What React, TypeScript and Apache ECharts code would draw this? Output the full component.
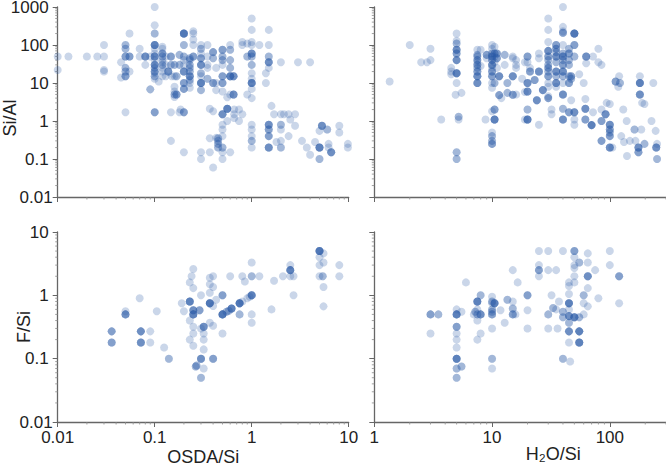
import React, { useEffect, useRef } from "react";
import * as echarts from "echarts";

type P = [number, number, number];

const osdaSiAl: P[] = [
  [0.01,50,1],[0.0129,50,1],[0.02,50,1],[0.0256,50,1],[0.03,50,1],[0.01,22,1],[0.03,100,1],[0.03,22,1],[0.03,20,1],
  [0.045,14,1],[0.045,35,1],[0.05,100,2],[0.05,80,2],[0.05,50,3],[0.055,50,3],[0.05,25,2],[0.05,20,2],[0.05,15,3],[0.055,20,1],[0.055,200,1],[0.05,1.7,1],
  [0.07,80,1],[0.08,50,4],[0.07,50,1],[0.09,50,1],[0.08,30,1],[0.09,6.8,2],
  [0.1,1000,1],[0.1,330,1],[0.1,200,2],[0.1,100,5],[0.1,80,1],[0.1,60,1],[0.1,50,4],[0.1,40,1],[0.1,30,4],[0.1,25,2],[0.1,20,3],[0.1,18,1],[0.1,15,2],[0.1,13,1],[0.1,1.7,3],[0.11,11,1],
  [0.12,90,1],[0.12,80,1],[0.12,60,3],[0.12,50,2],[0.12,40,1],[0.12,35,1],[0.12,30,2],[0.12,25,1],[0.12,20,1],[0.12,15,1],
  [0.13,50,1],[0.13,30,1],[0.13,15,1],[0.138,20,4],[0.147,50,3],[0.147,30,2],[0.147,1.7,1],[0.147,0.3,1],[0.15,15,1],
  [0.16,30,2],[0.16,15,1],[0.16,8,1],[0.16,6,1],[0.16,5,2],[0.16,4.3,1],[0.168,5,3],[0.168,15,2],[0.18,55,2],[0.18,30,2],[0.18,1.7,1],[0.185,2,1],
  [0.2,200,6],[0.2,100,2],[0.2,50,2],[0.2,40,1],[0.2,30,1],[0.2,20,4],[0.2,10,3],[0.2,7,3],[0.2,1.7,3],[0.2,0.15,1],
  [0.23,45,2],[0.23,40,2],[0.23,30,2],[0.23,25,2],[0.23,20,2],[0.23,15,4],[0.23,12,2],[0.23,10,1],[0.23,7.5,1],
  [0.25,230,1],[0.25,200,1],[0.25,140,1],[0.25,100,1],[0.25,50,3],
  [0.3,100,1],[0.3,80,2],[0.3,60,1],[0.3,45,3],[0.3,30,4],[0.3,18,2],[0.3,15,1],[0.3,10,5],[0.3,6.5,2],[0.3,0.15,1],[0.3,0.1,1],
  [0.35,100,1],[0.35,50,1],[0.35,30,1],[0.35,25,1],[0.35,13,2],[0.37,2.1,1],[0.37,0.35,1],[0.37,0.15,1],
  [0.4,65,3],[0.4,45,2],[0.4,10,3],[0.4,1.8,1],[0.4,0.06,1],[0.43,10,1],[0.43,6.5,1],[0.43,25,1],[0.43,0.36,1],
  [0.45,0.35,2],[0.45,0.3,2],[0.45,0.25,2],[0.45,0.2,2],[0.5,0.15,1],
  [0.5,75,3],[0.5,50,2],[0.5,40,2],[0.5,30,1],[0.5,15,3],[0.5,10,3],[0.5,6,1],[0.5,1.5,4],[0.5,0.8,1],[0.5,0.6,1],[0.5,0.4,1],[0.5,0.2,2],[0.5,0.1,1],
  [0.56,2.1,5],[0.56,4.2,1],[0.56,1,1],[0.6,0.15,1],[0.6,100,1],[0.6,75,2],[0.6,40,2],[0.6,25,2],[0.6,15,5],[0.6,5,1],
  [0.65,15,4],[0.65,5,4],[0.66,2,1],[0.66,1.5,1],[0.66,1.2,1],[0.74,2,1],[0.74,1,1],[0.8,1.5,1],[0.8,120,1],[0.8,100,1],[0.9,110,1],[0.9,50,2],[0.9,5,1],
  [1,500,1],[1,250,1],[1,120,1],[1,100,1],[1,60,4],[1,50,2],[1,30,2],[1,18,1],[1,13,1],[1,10,5],[1,7,1],[1,4,1],[1,0.8,1],[1,0.6,1],[1,0.4,1],[1,0.3,2],[1,0.2,1],
  [1.2,100,1],[1.4,18,1],[1.4,10,1],[1.5,250,1],[1.5,100,1],[1.5,50,2],[1.5,35,4],[1.5,25,1],[1.5,0.8,4],[1.5,0.6,3],[1.5,0.4,3],[1.5,0.2,4],
  [1.6,2.5,1],[1.7,1.5,1],[2,35,1],[2,1.5,1],[2,0.8,2],[2,0.6,1],[2,0.3,1],[2,0.2,2],[1.8,0.28,1],[2.15,1.5,1],[2.4,1.5,1],[2.8,1.5,1],[2.5,1.1,1],[2.8,0.75,1],[2.4,0.4,1],
  [3,35,1],[4,35,1],[3.3,0.3,1],[3.7,0.2,1],[4,0.13,1],[4.5,0.28,1],[5,0.2,5],[5,0.1,2],[5,0.55,1],[5.3,0.75,4],[6,0.6,2],[6.2,0.25,1],[6.2,0.2,1],[6.6,0.15,4],[8,0.75,1],[8,0.5,1],[9.8,0.25,1],[9.8,0.2,1],
];

const waterSiAl: P[] = [
  [1.35,11,1],[2,100,1],[2.5,35,1],[2.8,35,1],[3,40,1],[3,80,1],[3.7,1.1,1],
  [4.5,25,1],[4.5,20,1],[4.5,17,1],[5,200,1],[5,130,1],[5,110,2],[5,75,4],[5,60,3],[5,40,4],[5,18,5],[5,10,1],[4.9,4.9,1],[5.5,5.5,1],[5,0.15,2],[5,0.1,2],[5.2,1.3,2],[5.2,1.1,1],
  [7.5,75,1],[7.5,55,2],[7.5,50,2],[7.5,40,3],[7.5,35,1],[7.5,30,3],[7.5,25,2],[7.5,20,3],[7.5,15,4],[7.5,10,4],[8,75,1],[9,55,3],[9,45,1],[8,28,1],[8.8,1.1,1],
  [10,100,1],[10,80,1],[10,60,2],[10,50,4],[10,40,3],[10,30,4],[10,25,1],[10,20,3],[10,15,3],[10,10,1],[10,7.5,1],[10,1.8,1],[10,0.5,1],[10,0.4,2],[10,0.3,2],[10,0.25,3],
  [10.5,90,1],[10.5,60,3],[10.5,50,1],[10.5,35,1],[10.5,10,2],[10.5,2,3],[10.5,1.1,5],[11,60,3],[11,45,3],[11,25,1],[11.5,15,4],[11.5,4.8,3],[12,4,1],
  [12.8,55,2],[12.8,30,1],[13.5,10,2],[13.5,5.5,2],[15,50,1],[15,45,1],[15,15,4],[15,4.9,3],[16,40,1],[16,30,1],[16,25,1],[16,5,1],[18,13,1],[19,35,1],[19,5.8,1],[19,1.1,1],
  [20,50,3],[20,10,4],[20,6,4],[20,2,2],[20,1.1,5],[20,35,1],[21,20,3],[21,25,1],[23,12,3],[24,3.5,4],[25,60,1],[25,45,1],[25,20,4],[25,0.8,1],[27,6.5,4],
  [30,500,1],[30,250,1],[30,120,1],[30,70,4],[30,50,3],[30,40,2],[30,30,2],[30,25,3],[30,20,2],[30,15,3],[30,10,1],[30,8,1],[30,4.5,1],[30,4,3],[32,2,1],[32,1.5,1],
  [35,100,3],[35,80,3],[35,65,2],[35,50,4],[35,35,2],[35,20,4],[35,15,2],[35,10,4],[35,8,1],
  [40,1000,1],[40,300,1],[40,230,1],[40,210,3],[40,100,1],[40,60,2],[40,50,4],[40,40,2],[40,30,3],[40,20,4],[40,15,2],[40,10,1],[40,5,4],[40,2.1,2],[40,1.1,4],
  [45,80,2],[45,60,3],[45,40,2],[45,30,2],[45,15,2],[45,10,3],[45,1.7,3],[47,15,3],[47,13,2],[47,3.5,1],[50,200,6],[50,100,3],[50,50,2],[50,1.7,4],[50,1.1,1],[50,0.8,1],
  [55,17,1],[60,10,1],[62,3.8,1],[62,2.1,4],[62,1.1,3],[63,50,4],[63,33,1],[70,0.78,5],
  [72,50,1],[80,80,1],[80,35,1],[85,30,1],[72,1.7,1],[85,2,1],[85,1,3],[85,0.3,3],[92,1.5,4],[94,3,1],[100,2.8,1],[100,0.8,4],[100,0.6,3],[100,0.5,2],[100,0.4,3],[100,0.2,4],[105,0.2,1],
  [112,11,3],[120,15,1],[122,10,2],[118,8,1],[125,0.4,1],[130,2,1],[132,0.28,1],[139,1,1],[148,0.3,1],[140,0.12,1],[162,0.6,2],[165,0.3,1],
  [180,15,1],[180,10,5],[180,5,4],[175,0.2,4],[175,0.15,3],[188,3,1],[197,2.8,1],[185,0.6,1],[197,0.25,2],[234,10,1],[226,1,1],[245,0.55,1],[252,0.25,1],[248,0.2,4],[252,0.1,2],
];

const osdaFSi: P[] = [
  [0.036,0.27,3],[0.036,0.18,3],[0.05,0.5,4],[0.05,0.56,1],[0.07,0.9,1],[0.072,0.27,4],[0.072,0.18,4],[0.09,0.27,1],[0.09,0.18,1],[0.105,0.56,1],[0.125,0.15,1],[0.14,0.1,2],
  [0.19,0.75,1],[0.2,0.56,1],[0.23,0.8,5],[0.23,0.4,1],[0.23,0.2,1],[0.23,1.6,1],[0.24,2,1],[0.25,2.6,1],[0.25,1.3,1],[0.25,0.58,4],[0.25,0.5,5],[0.25,0.32,1],[0.25,0.25,1],[0.25,0.16,1],[0.265,0.075,2],[0.27,0.078,2],
  [0.29,0.58,3],[0.3,1,1],[0.3,0.1,4],[0.3,0.05,2],[0.3,0.3,1],[0.32,0.32,4],[0.32,0.25,1],[0.32,0.2,1],[0.32,0.14,1],[0.32,0.07,1],
  [0.37,0.75,6],[0.37,1.9,1],[0.37,1.5,1],[0.37,1.1,1],[0.37,0.37,1],[0.4,2,1],[0.4,1.35,1],[0.4,0.68,1],[0.4,0.33,1],[0.4,0.1,3],[0.43,0.85,1],
  [0.5,1,3],[0.5,0.5,6],[0.5,0.25,1],[0.55,0.55,2],[0.58,0.57,2],[0.62,0.62,5],[0.6,2,1],[0.75,0.75,6],[0.75,0.5,2],[0.8,0.8,1],[0.8,2,1],[0.85,1.65,1],[0.9,0.9,1],[0.95,0.95,1],
  [1,1,5],[1,2,2],[1,3.3,1],[1,0.5,1],[1,0.37,1],[1.2,2,1],[1.6,0.6,1],[1.7,1.7,1],[2.1,2,1],[2.5,3,1],[2.5,2.5,5],[2.5,2,1],[2.7,1,1],[2.7,2,1],
  [5,5,6],[5,4,1],[5,3,1],[5,2,1],[5.5,4.6,1],[5.5,3.3,1],[5.4,2,2],[5.5,1.35,1],[5.5,0.67,1],[8,3,1],[8,2,1],
];

const waterFSi: P[] = [
  [3,0.5,3],[3,0.25,1],[3.5,0.5,2],[5,0.6,1],[5,0.5,5],[5,0.32,3],[5,0.25,1],[5,0.2,1],[5,0.15,1],[5,0.1,5],[5,0.07,2],[5,0.05,2],[5.5,0.075,2],[5.5,0.55,1],[6,1.6,1],
  [7,0.5,1],[7.2,0.55,2],[7.5,0.8,5],[7.5,0.6,1],[7.5,0.5,2],[7.5,0.4,1],[7.5,0.2,1],[8,1,2],[8,0.5,4],[8,0.25,1],
  [10,0.95,1],[10,0.8,2],[10,0.75,1],[10,0.6,2],[10,0.55,2],[10,0.5,3],[10,0.3,1],[10,0.1,2],[10,0.07,1],[10.5,0.75,5],[11.8,0.58,1],[12.8,0.37,1],[13.5,0.85,2],
  [15,2.5,1],[15,0.8,1],[15,0.62,2],[15,0.5,3],[15.8,0.5,1],[16.5,1.6,1],[20,1,3],[20,0.58,1],[20,0.3,1],
  [25,3,1],[25,5,1],[25,2.5,3],[25,2,1],[30,5,1],[30,2.5,1],[30,0.5,2],[30,0.3,1],[35,2.5,1],[32,1,1],[33,0.63,2],[35,0.6,1],[36,0.3,1],[37,0.8,1],
  [40,5,1],[40,0.55,2],[40,0.45,2],[40,0.1,2],[45,1.6,1],[45,1.4,1],[45,1.05,1],[45,0.75,5],[45,0.6,1],[45,0.47,4],[45,0.37,2],[45,0.27,4],[45,0.18,1],[46,0.09,1],
  [50,5,3],[50,4,1],[50,3,1],[50,2.7,1],[50,2,1],[50,1.6,1],[50,0.45,5],[55,3.3,2],[55,0.45,2],[55,0.27,5],[55,0.18,5],[60,0.75,1],[60,1,2],[60,0.5,1],
  [65,4.6,1],[65,3.3,1],[65,2,4],[65,1.3,1],[65,0.67,1],[75,2.5,1],[80,0.9,1],[100,5,1],[100,3,1],[120,2,3],[120,0.75,1],
];

const xLeftRange = [0.01, 10];
const xRightRange = [1, 300];
const yTopRange = [0.01, 1000];
const yBottomRange = [0.01, 10];
const xLeftMajor = [0.01, 0.1, 1, 10];
const xRightMajor = [1, 10, 100];
const yTopMajor = [0.01, 0.1, 1, 10, 100, 1000];
const yBottomMajor = [0.01, 0.1, 1, 10];

const FONT = "'Liberation Sans', Arial, sans-serif";
const AXIS = "#666666";
const TEXT = "#222222";
const DOT = "#2a5aa6";

const minorsFor = (lo: number, hi: number): number[] => {
  const out: number[] = [];
  for (let d = Math.floor(Math.log10(lo) + 1e-9); d <= Math.ceil(Math.log10(hi)); d++) {
    for (const m of [2, 3, 4, 5, 6, 7, 8, 9]) {
      const v = Number((m * Math.pow(10, d)).toPrecision(3));
      if (v > lo && v <= hi) out.push(v);
    }
  }
  return out;
};

const expand = (pts: P[]) => {
  const out: number[][] = [];
  for (const [x, y, n] of pts) for (let i = 0; i < n; i++) out.push([x, y]);
  return out;
};

const panels = [
  { data: osdaSiAl, xr: xLeftRange, yr: yTopRange, xm: xLeftMajor, ym: yTopMajor, left: 57.7, width: 291, top: 7, height: 190, xl: false, yl: true, xn: "", yn: "Si/Al" },
  { data: waterSiAl, xr: xRightRange, yr: yTopRange, xm: xRightMajor, ym: yTopMajor, left: 374.3, width: 291.7, top: 7, height: 190, xl: false, yl: false, xn: "", yn: "" },
  { data: osdaFSi, xr: xLeftRange, yr: yBottomRange, xm: xLeftMajor, ym: yBottomMajor, left: 57.7, width: 291, top: 232, height: 190, xl: true, yl: true, xn: "OSDA/Si", yn: "F/Si" },
  { data: waterFSi, xr: xRightRange, yr: yBottomRange, xm: xRightMajor, ym: yBottomMajor, left: 374.3, width: 291.7, top: 232, height: 190, xl: true, yl: false, xn: "H₂O/Si", yn: "" },
];

export default function App() {
  const ref = useRef<HTMLDivElement>(null);
  useEffect(() => {
    const chart = echarts.init(ref.current!, undefined, { renderer: "svg" });
    const fmt = (v: number) => String(Number(v.toPrecision(3)));
    const axis = (range: number[], major: number[], showLabel: boolean, name: string, isY: boolean) => ({
      type: "log" as const,
      logBase: 10,
      min: range[0],
      max: range[1],
      splitLine: { show: false },
      axisLine: { show: true, onZero: false, lineStyle: { color: AXIS, width: 1.3 } },
      axisTick: { show: true, length: 5, customValues: major, lineStyle: { color: AXIS, width: 1 } },
      axisLabel: {
        show: showLabel,
        customValues: major,
        hideOverlap: false,
        margin: isY ? 5 : 7,
        color: TEXT,
        fontSize: 17,
        fontFamily: FONT,
        formatter: isY ? (v: number) => (v < 0.05 ? fmt(v) : `{p|${fmt(v)}}`) : fmt,
        rich: { p: { fontSize: 17, lineHeight: 13, fontFamily: FONT, color: TEXT, padding: [0, 4, 0, 0] } },
      },
      name,
      nameLocation: "middle" as const,
      nameMoveOverlap: false,
      nameGap: name === "Si/Al" ? 41 : name === "F/Si" ? 27 : name === "OSDA/Si" ? 28 : 25,
      nameTextStyle: {
        color: TEXT,
        fontSize: 18,
        lineHeight: 14,
        fontFamily: FONT,
        padding: name === "Si/Al" ? [0, 32, 0, 0] : name === "H₂O/Si" ? [0, 0, 0, 66] : 0,
      },
    });
    const tickSeries = (i: number, values: number[], isY: boolean, range: number[]) => ({
      type: "custom" as const,
      xAxisIndex: i,
      yAxisIndex: i,
      silent: true,
      clip: false,
      data: values.map((v) => [v]),
      encode: isY ? { y: 0 } : { x: 0 },
      renderItem: (_: unknown, api: any) => {
        const v = api.value(0);
        const p = isY ? api.coord([range[0], v]) : api.coord([v, range[0]]);
        return {
          type: "line",
          shape: isY
            ? { x1: p[0], y1: p[1], x2: p[0] - 2.5, y2: p[1] }
            : { x1: p[0], y1: p[1], x2: p[0], y2: p[1] + 2.5 },
          style: { stroke: "#8a8a8a", lineWidth: 0.8 },
        };
      },
    });
    chart.setOption({
      animation: false,
      backgroundColor: "#ffffff",
      grid: panels.map((p) => ({ left: p.left, top: p.top, width: p.width, height: p.height, containLabel: false, outerBoundsMode: "none" })),
      xAxis: panels.map((p, i) => ({ gridIndex: i, ...axis(p.xr, p.xm, p.xl, p.xn, false) })),
      yAxis: panels.map((p, i) => ({ gridIndex: i, ...axis(p.yr, p.ym, p.yl, p.yn, true) })),
      series: panels.flatMap((p, i) => [
        {
          type: "scatter",
          xAxisIndex: i,
          yAxisIndex: i,
          clip: true,
          symbol: "circle",
          symbolSize: 8,
          large: false,
          silent: true,
          itemStyle: { color: DOT, opacity: 0.25 },
          data: expand(p.data),
        },
        tickSeries(i, minorsFor(p.xr[0], p.xr[1]), false, p.yr),
        tickSeries(i, minorsFor(p.yr[0], p.yr[1]), true, p.xr),
      ]),
    });
    return () => chart.dispose();
  }, []);
  return <div ref={ref} style={{ position: "absolute", left: 0, top: 0, width: 666, height: 465 }} />;
}
